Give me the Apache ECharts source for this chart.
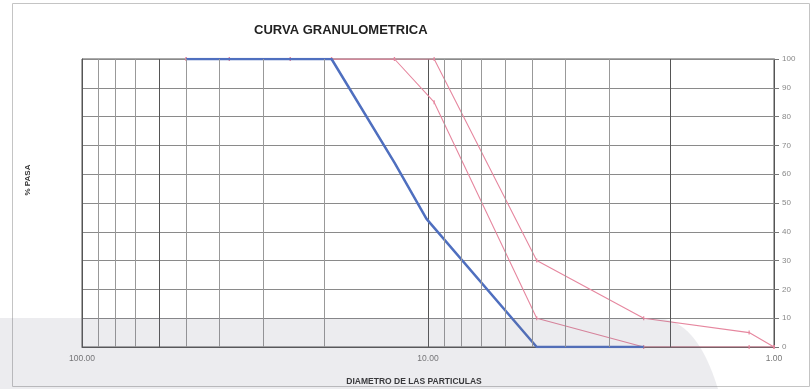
<!DOCTYPE html>
<html>
<head>
<meta charset="utf-8">
<script src="https://cdn.jsdelivr.net/npm/echarts@6/dist/echarts.min.js"></script>
<style>
  html, body { margin: 0; padding: 0; background: #ffffff; }
  #chart { width: 812px; height: 389px; }
</style>
</head>
<body>
<div id="chart"></div>
<script>
// Particle diameters (mm) and cumulative percent passing
const limitSizes = [50, 37.5, 25, 19, 12.5, 9.6, 4.85, 2.38, 1.18, 1.0];
const upperLimit = [100, 100, 100, 100, 100, 100, 30, 10, 5, 0];
const lowerLimit = [100, 100, 100, 100, 100, 85, 10, 0, 0, 0];

const sampleSizes = [50, 37.5, 25, 19, 12.5, 10.1, 4.85, 2.38];
const sampleCurve = [100, 100, 100, 100, 64, 44.5, 0, 0];

// Logarithmic grid lines inside each decade
const minorDiameters = [90, 80, 70, 60, 50, 40, 30, 20, 9, 8, 7, 6, 5, 4, 3, 2];
const darkDiameters = [60, 2];

const xTicks = [100, 10, 1];
const yTicks = [0, 10, 20, 30, 40, 50, 60, 70, 80, 90, 100];

const FONT = '"Liberation Sans", Arial, sans-serif';

function pairs(sizes, values) {
  return sizes.map((d, i) => [d, values[i]]);
}

// Soft shadow across the lower part of the sheet
function shadowOutline() {
  const pts = [[0, 318], [655, 318]];
  const p0 = [655, 318], c1 = [688, 318], c2 = [706, 350], p3 = [718, 389];
  for (let i = 1; i <= 20; i++) {
    const t = i / 20, u = 1 - t;
    pts.push([
      u*u*u*p0[0] + 3*u*u*t*c1[0] + 3*u*t*t*c2[0] + t*t*t*p3[0],
      u*u*u*p0[1] + 3*u*u*t*c1[1] + 3*u*t*t*c2[1] + t*t*t*p3[1]
    ]);
  }
  pts.push([0, 389]);
  return pts;
}

const chart = echarts.init(document.getElementById('chart'), null, { renderer: 'canvas' });

chart.setOption({
  animation: false,
  backgroundColor: '#ffffff',
  title: [
    {
      text: 'CURVA GRANULOMETRICA',
      left: 249, top: 19,
      textStyle: { fontFamily: FONT, fontSize: 13, fontWeight: 'bold', color: '#222' }
    },
    {
      text: 'DIAMETRO DE LAS PARTICULAS',
      left: 409, top: 372, textAlign: 'center',
      textStyle: { fontFamily: FONT, fontSize: 8.5, fontWeight: 'bold', color: '#333' }
    }
  ],
  grid: { left: 82, right: 38, top: 59, bottom: 42, show: true, borderColor: '#555', borderWidth: 1 },
  xAxis: {
    type: 'log', logBase: 10, min: 1, max: 100, inverse: true,
    axisLine: { show: true, lineStyle: { color: '#555' } },
    axisTick: { show: false },
    axisLabel: {
      color: '#777', fontFamily: FONT, fontSize: 8.5, margin: 7,
      formatter: v => xTicks.includes(Math.round(v)) ? Number(v).toFixed(2) : ''
    },
    splitLine: { show: true, lineStyle: { color: '#555', width: 1 } }
  },
  yAxis: [
    {
      type: 'value', position: 'right', min: 0, max: 100, interval: 10,
      axisLine: { show: true, lineStyle: { color: '#555' } },
      axisTick: { show: true, inside: false, length: 5, lineStyle: { color: '#777' } },
      axisLabel: { color: '#888', fontFamily: FONT, fontSize: 8, margin: 8,
        formatter: v => yTicks.includes(v) ? String(v) : '' },
      splitLine: { show: true, lineStyle: { color: '#8a8a8a', width: 1 } }
    },
    {
      type: 'value', position: 'left', min: 0, max: 100, interval: 10,
      axisLine: { show: true, lineStyle: { color: '#555' } },
      axisTick: { show: false }, axisLabel: { show: false }, splitLine: { show: false }
    }
  ],
  series: [
    {
      name: 'grid', type: 'line', data: [], silent: true,
      markLine: {
        silent: true, symbol: ['none', 'none'], label: { show: false },
        animation: false,
        data: minorDiameters.map(d => ({
          xAxis: d,
          lineStyle: {
            color: darkDiameters.includes(d) ? '#555' : '#999',
            width: 1, type: 'solid'
          }
        }))
      }
    },
    {
      name: 'Limite superior', type: 'line', data: pairs(limitSizes, upperLimit),
      symbol: 'rect', symbolSize: [1.2, 4], showSymbol: true,
      itemStyle: { color: '#e6879f' },
      lineStyle: { color: '#e6879f', width: 1.1 }, z: 3
    },
    {
      name: 'Limite inferior', type: 'line', data: pairs(limitSizes, lowerLimit),
      symbol: 'rect', symbolSize: [1.2, 4], showSymbol: true,
      itemStyle: { color: '#e6879f' },
      lineStyle: { color: '#e6879f', width: 1.1 }, z: 3
    },
    {
      name: 'Muestra', type: 'line', data: pairs(sampleSizes, sampleCurve),
      symbol: 'none',
      lineStyle: { color: '#4f6fbf', width: 2.5 }, z: 4
    }
  ],
  graphic: [
    {
      type: 'text', silent: true, x: 28, y: 180, rotation: Math.PI / 2,
      style: {
        text: '% PASA', fontFamily: FONT, fontSize: 8, fontWeight: 'bold', fill: '#333',
        textAlign: 'center', textVerticalAlign: 'middle'
      }
    },
    {
      type: 'rect', silent: true, z: 100,
      shape: { x: 12.5, y: 3.5, width: 797, height: 383 },
      style: { fill: 'none', stroke: '#c4c4c4', lineWidth: 1 }
    },
    {
      type: 'polygon', silent: true, z: 100,
      shape: { points: shadowOutline() },
      style: { fill: 'rgba(110,110,130,0.13)' }
    }
  ]
});
</script>
</body>
</html>
